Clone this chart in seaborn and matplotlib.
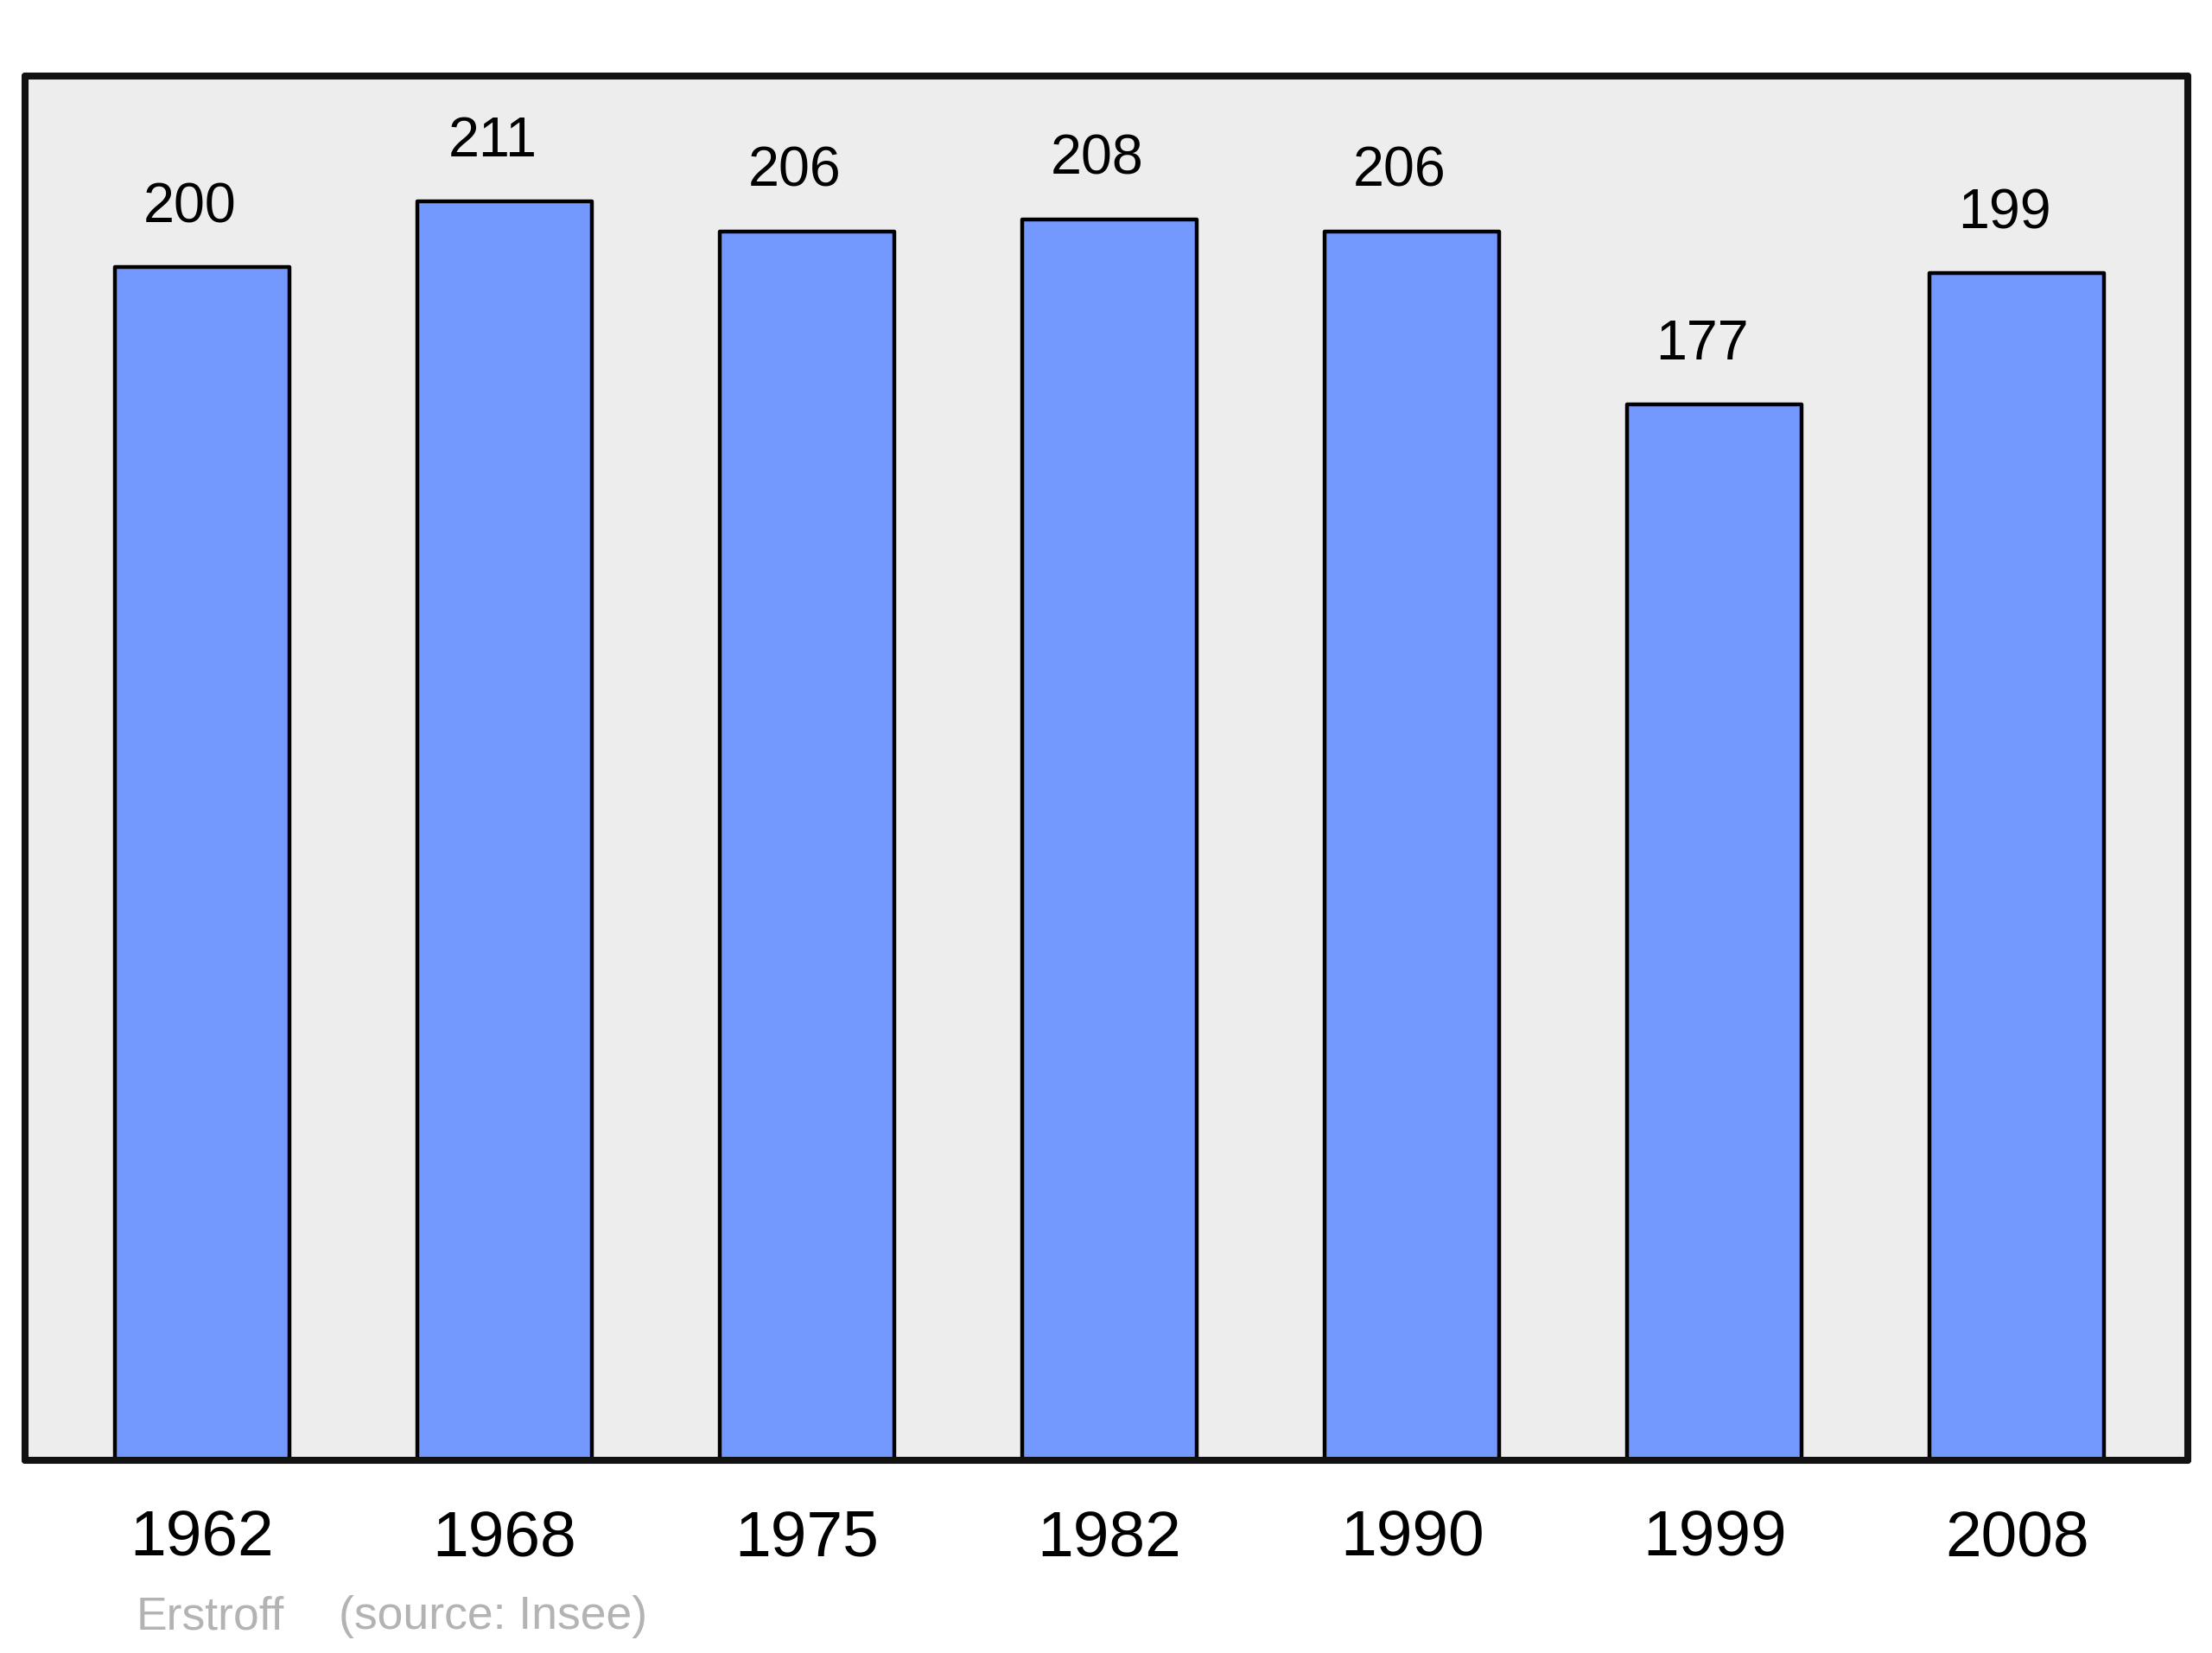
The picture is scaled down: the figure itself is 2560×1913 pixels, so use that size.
import matplotlib
matplotlib.use("Agg")
import matplotlib.pyplot as plt
import pandas as pd
import seaborn as sns

annees = ["1962", "1968", "1975", "1982", "1990", "1999", "2008"]
habitants = [200, 211, 206, 208, 206, 177, 199]
commune = "Erstroff"
source = "(source: Insee)"

sns.set_theme(style="white")
plt.rcParams["font.family"] = ["Liberation Sans", "DejaVu Sans"]

df = pd.DataFrame({"Année": annees, "Population": habitants})

fig = plt.figure(figsize=(25.6, 19.13), dpi=100)
ax = fig.add_axes([0.01133, 0.11657, 0.97773, 0.83743])
ax.set_facecolor("#ededed")

sns.barplot(df, x="Année", y="Population", color="#7399ff", saturation=1,
            width=0.577, edgecolor="black", linewidth=3.2, ax=ax)
for barre in ax.patches:
    barre.set_joinstyle("round")

for i, valeur in enumerate(habitants):
    ax.text(i - 0.04, valeur + 7.5, str(valeur), ha="center", va="baseline",
            fontsize=46.5, color="black")

ax.set_xlim(-0.585, 6.565)
ax.set_ylim(0, 232)
ax.set_yticks([])
ax.set_xlabel("")
ax.set_ylabel("")
ax.tick_params(axis="x", length=0, pad=41, labelsize=54, labelcolor="black")

for cote in ax.spines.values():
    cote.set_visible(True)
    cote.set_color("#111111")
    cote.set_linewidth(5.8)
    cote.set_capstyle("round")
    cote.set_joinstyle("round")

fig.text(158 / 2560, 1 - 1885 / 1913, commune, fontsize=38.5, color="#b3b3b3",
         ha="left", va="baseline")
fig.text(392 / 2560, 1 - 1885 / 1913, source, fontsize=38.5, color="#b3b3b3",
         ha="left", va="baseline")

fig.savefig("out.png", dpi=100, facecolor="white")
plt.close(fig)
